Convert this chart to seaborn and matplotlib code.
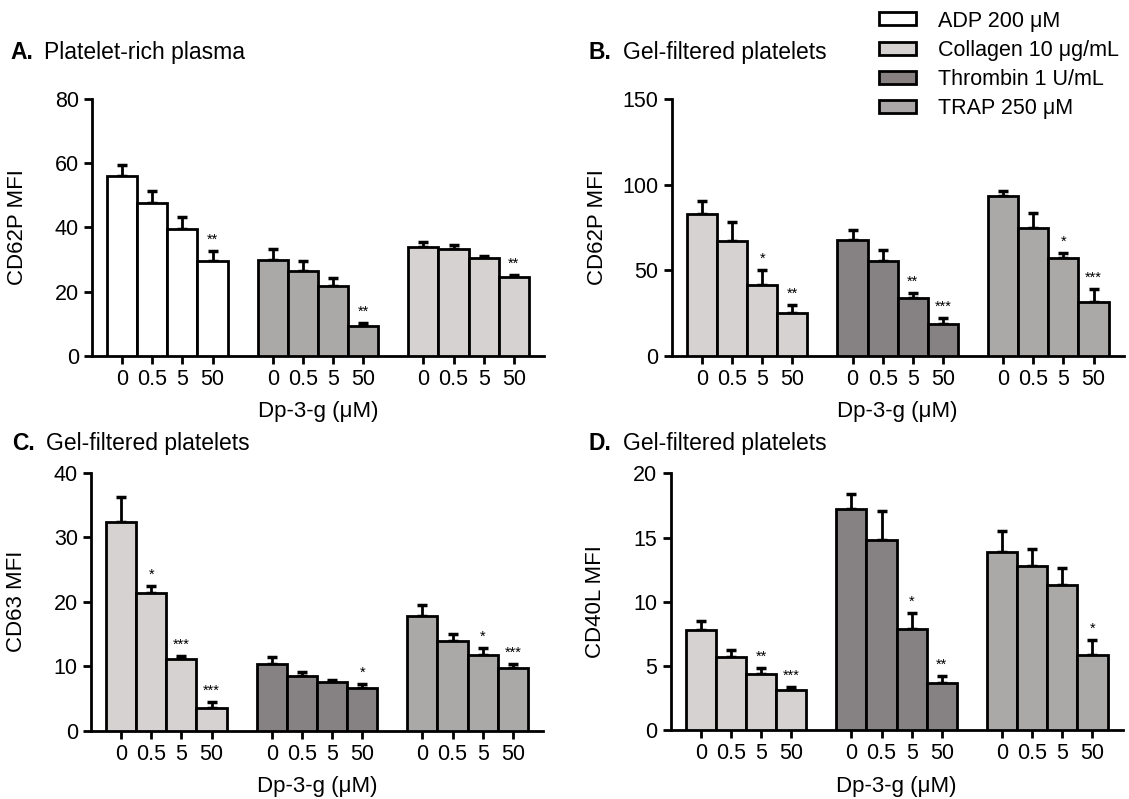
import numpy as np
import pandas as pd
import seaborn as sns
import matplotlib.pyplot as plt
from matplotlib.patches import Patch

doses = ["0", "0.5", "5", "50"]
agonists = ["ADP 200 μM", "Collagen 10 μg/mL", "Thrombin 1 U/mL", "TRAP 250 μM"]
colors = {"ADP 200 μM": "#ffffff", "Collagen 10 μg/mL": "#d6d2d2",
          "Thrombin 1 U/mL": "#878182", "TRAP 250 μM": "#aba7a8"}

# Panel A - platelet-rich plasma, CD62P
a_groups = ["ADP 200 μM", "TRAP 250 μM", "Collagen 10 μg/mL"]
a_mean = [[56.0, 47.6, 39.5, 29.6], [30.0, 26.5, 21.8, 9.4], [33.9, 33.2, 30.5, 24.7]]
a_sem = [[3.4, 3.7, 3.8, 3.0], [3.4, 3.2, 2.6, 0.9], [1.5, 1.2, 0.7, 0.5]]
a_star = [["", "", "", "**"], ["", "", "", "**"], ["", "", "", "**"]]

# Panel B - gel-filtered platelets, CD62P
b_groups = ["Collagen 10 μg/mL", "Thrombin 1 U/mL", "TRAP 250 μM"]
b_mean = [[82.9, 67.2, 41.2, 25.3], [67.7, 55.5, 33.6, 18.5], [93.5, 74.5, 57.4, 31.4]]
b_sem = [[7.7, 10.8, 8.9, 4.2], [6.0, 6.6, 3.1, 3.8], [2.8, 9.0, 2.6, 7.8]]
b_star = [["", "", "*", "**"], ["", "", "**", "***"], ["", "", "*", "***"]]

# Panel C - gel-filtered platelets, CD63
c_groups = ["Collagen 10 μg/mL", "Thrombin 1 U/mL", "TRAP 250 μM"]
c_mean = [[32.4, 21.3, 11.1, 3.5], [10.4, 8.5, 7.5, 6.6], [17.8, 13.9, 11.8, 9.7]]
c_sem = [[3.9, 1.1, 0.5, 0.9], [1.0, 0.6, 0.4, 0.7], [1.7, 1.1, 1.0, 0.6]]
c_star = [["", "*", "***", "***"], ["", "", "", "*"], ["", "", "*", "***"]]

# Panel D - gel-filtered platelets, CD40L
d_groups = ["Collagen 10 μg/mL", "Thrombin 1 U/mL", "TRAP 250 μM"]
d_mean = [[7.8, 5.7, 4.4, 3.1], [17.2, 14.8, 7.9, 3.7], [13.9, 12.8, 11.3, 5.9]]
d_sem = [[0.7, 0.55, 0.45, 0.3], [1.2, 2.3, 1.2, 0.55], [1.65, 1.3, 1.3, 1.1]]
d_star = [["", "", "**", "***"], ["", "", "*", "**"], ["", "", "", "*"]]

sns.set_style("ticks")
plt.rcParams['font.family'] = ['Liberation Sans', 'DejaVu Sans']
plt.rcParams['axes.linewidth'] = 2
for key in ['text.color', 'axes.labelcolor', 'xtick.color', 'ytick.color', 'axes.edgecolor']:
    plt.rcParams[key] = 'black'


def draw_panel(ax, groups, means, sems, stars, ylim, yticks, ylabel):
    rows = []
    for g, (name, vals, errs, st) in enumerate(zip(groups, means, sems, stars)):
        for i in range(4):
            rows.append({"pos": g * 5 + i, "value": vals[i], "sem": errs[i],
                         "star": st[i], "agonist": name})
    df = pd.DataFrame(rows)
    sns.barplot(data=df, x="pos", y="value", hue="agonist", palette=colors,
                native_scale=True, dodge=False, width=1.0, errorbar=None,
                edgecolor="black", linewidth=2, legend=False, ax=ax, zorder=3)
    ax.errorbar(df["pos"], df["value"], yerr=[np.zeros(len(df)), df["sem"]],
                fmt="none", ecolor="black", elinewidth=2, capsize=3.8,
                capthick=2.5, zorder=2)
    for _, r in df.iterrows():
        if r["star"]:
            ax.annotate(r["star"], (r["pos"], r["value"] + r["sem"]),
                        xytext=(0, 3), textcoords="offset points",
                        ha="center", va="bottom", fontsize=10.5)
    ax.set_xlim(-1, 14)
    ax.set_ylim(*ylim)
    ax.set_yticks(yticks)
    ax.set_xticks(df["pos"])
    ax.set_xticklabels(doses * 3)
    ax.tick_params(axis="both", labelsize=15.5, width=2, length=6)
    ax.set_xlabel("Dp-3-g (μM)", fontsize=16, labelpad=8)
    ax.set_ylabel(ylabel, fontsize=16)
    ax.yaxis.set_label_coords(-0.142, 0.5)
    ax.spines["top"].set_visible(False)
    ax.spines["right"].set_visible(False)


fig = plt.figure(figsize=(11.29, 7.99), dpi=100)
ax_a = fig.add_axes([0.0815, 0.5544, 0.4003, 0.322])
ax_b = fig.add_axes([0.595, 0.5544, 0.4003, 0.322])
ax_c = fig.add_axes([0.0806, 0.0857, 0.4003, 0.3222])
ax_d = fig.add_axes([0.594, 0.0860, 0.4003, 0.3215])

draw_panel(ax_a, a_groups, a_mean, a_sem, a_star, (0, 80), [0, 20, 40, 60, 80], "CD62P MFI")
draw_panel(ax_b, b_groups, b_mean, b_sem, b_star, (0, 150), [0, 50, 100, 150], "CD62P MFI")
draw_panel(ax_c, c_groups, c_mean, c_sem, c_star, (0, 40), [0, 10, 20, 30, 40], "CD63 MFI")
draw_panel(ax_d, d_groups, d_mean, d_sem, d_star, (0, 20), [0, 5, 10, 15, 20], "CD40L MFI")

titles = [(0.009, 0.926, "A.", "Platelet-rich plasma"),
          (0.5215, 0.926, "B.", "Gel-filtered platelets"),
          (0.011, 0.437, "C.", "Gel-filtered platelets"),
          (0.5215, 0.437, "D.", "Gel-filtered platelets")]
for x, y, letter, text in titles:
    fig.text(x, y, letter, fontsize=16.5, fontweight="bold", va="baseline")
    fig.text(x + 0.030, y, text, fontsize=16.5, va="baseline")

handles = [Patch(facecolor=colors[a], edgecolor="black", linewidth=2, label=a) for a in agonists]
fig.legend(handles=handles, loc="upper left", bbox_to_anchor=(0.761, 1.011),
           frameon=False, fontsize=15.5, handlelength=1.75, handleheight=0.55,
           labelspacing=0.38, handletextpad=1.0)

fig.savefig("out.png", dpi=100)
